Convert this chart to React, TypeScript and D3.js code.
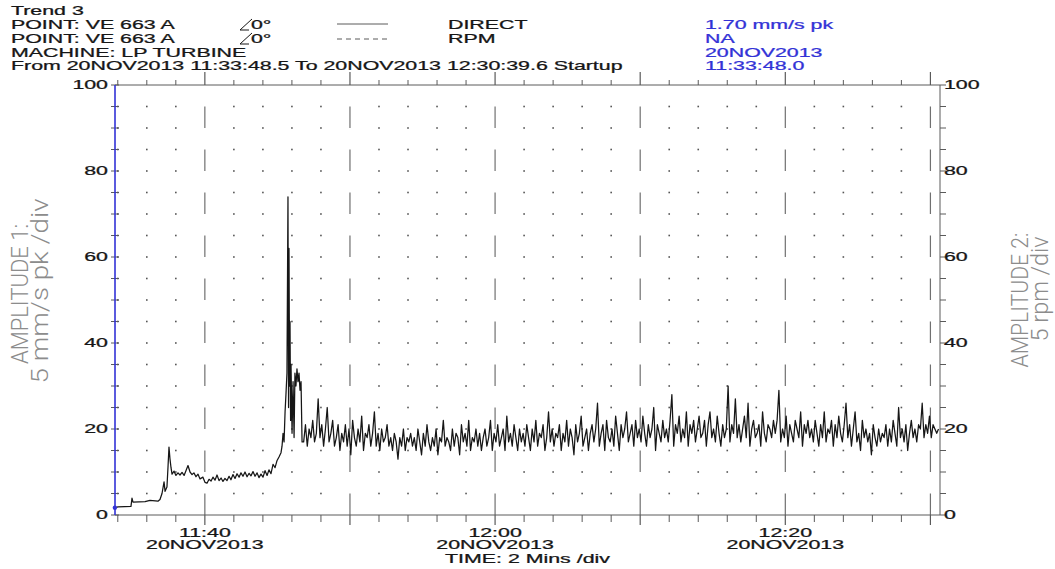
import React from "react";
import * as d3 from "d3";

// ---- page / plotter lettering ----
const W = 1055;
const H = 569;
const SX = 1.78; // the plotter letters are drawn wide

// ---- header text ----
const headerLines = [
  "Trend 3",
  "POINT: VE 663 A",
  "POINT: VE 663 A",
  "MACHINE: LP TURBINE",
  "From 20NOV2013 11:33:48.5 To 20NOV2013 12:30:39.6 Startup",
];
const phaseLabels = ["0°", "0°"];
const legendNames = ["DIRECT", "RPM"];
const cursorReadout = ["1.70 mm/s pk", "NA", "20NOV2013", "11:33:48.0"];

// ---- axes ----
const yTickLabels = [0, 20, 40, 60, 80, 100];
const yDomain = [0, 100];
const yMinorStep = 5;
const xMinorStepMin = 2;
const xMajorStepMin = 10;
const xLabelStepMin = 20;
const leftTitle = ["AMPLITUDE 1:", "5 mm/s pk  /div"];
const rightTitle = ["AMPLITUDE 2:", "5 rpm  /div"];
const timeTitle = "TIME: 2 Mins /div";

const startTime = new Date(2013, 10, 20, 11, 33, 48, 500);
const endTime = new Date(2013, 10, 20, 12, 30, 39, 600);
const cursorTime = new Date(2013, 10, 20, 11, 33, 48, 0);
const cursorValue = 1.7;

// ---- DIRECT amplitude, mm/s pk ----
// run-up: minutes after start, amplitude
const warmupMin = [
  0, 0.21, 1.1, 1.17, 1.24, 2.07, 2.41, 2.96, 3.1, 3.24, 3.38, 3.45, 3.58, 3.65, 3.72,
  3.79, 3.86, 3.93, 4.07, 4.2, 4.34, 4.48, 4.62, 4.76, 4.89, 5.03, 5.17, 5.31, 5.44,
  5.58, 5.72, 5.86, 6.06, 6.2, 6.34, 6.48, 6.62, 6.75, 6.89, 7.03, 7.17, 7.31, 7.44,
  7.58, 7.72, 7.86, 7.99, 8.13, 8.27, 8.41, 8.55, 8.68, 8.82, 8.96, 9.1, 9.24, 9.37,
  9.51, 9.65, 9.79, 9.92, 10.06, 10.2, 10.34, 10.48, 10.61, 10.75, 10.89, 11.03,
  11.16, 11.3, 11.44, 11.51, 11.58, 11.65, 11.72, 11.78, 11.85, 11.92, 11.96, 11.99,
  12.03, 12.06, 12.1, 12.13, 12.2, 12.27, 12.34, 12.4, 12.47, 12.54, 12.61, 12.68,
  12.75, 12.82, 12.89,
];
const warmupVal = [
  1.7, 1.9, 2.0, 3.9, 3.0, 3.1, 3.4, 3.2, 3.6, 5.0, 7.7, 5.5, 6.5, 11, 15.8,
  13, 11, 9.5, 10.2, 9.2, 9.8, 9.3, 9.9, 9.2, 10.3, 11.5, 10, 9.4, 9.8,
  8.9, 9.5, 8.4, 8.8, 7.6, 7.4, 8.3, 7.9, 8.8, 8.1, 9.3, 8.0, 8.6, 7.8,
  8.5, 8.0, 9.0, 8.2, 9.4, 8.5, 9.6, 8.8, 9.8, 9.0, 10.0, 8.9, 9.7, 9.1,
  10.1, 9.0, 9.8, 8.7, 9.5, 8.8, 10.3, 9.2, 10.5, 9.6, 11.8, 11,
  12.6, 13.5, 14.5, 16, 19, 17, 24, 28, 33, 74, 25, 62,
  30, 45, 22, 35, 19, 31, 18, 33, 30, 34, 31, 33,
  29, 31, 17,
];
// running: fixed sample step after the run-up
const runStartMin = 13.0;
const runStepMin = 0.125;
const runVal = [
  17, 21, 16, 20, 18, 22, 17, 19, 27, 18, 21, 16, 20, 25, 17, 19, 22, 16, 18, 21,
  15, 19, 17, 21, 16, 20, 14, 22, 18, 16, 20, 17, 23, 15, 19, 18, 21, 16, 19, 24,
  16, 19, 15, 20, 17, 18, 21, 16, 18, 15, 19, 17, 13, 18, 16, 20, 15, 18, 17, 19,
  16, 18, 15, 20, 17, 14, 19, 16, 21, 17, 15, 18, 16, 20, 14, 18, 17, 22, 16, 18,
  17, 15, 20, 16, 19, 18, 14, 21, 17, 19, 16, 22, 15, 18, 17, 20, 16, 19, 15, 18,
  20, 16, 18, 22, 15, 19, 17, 21, 16, 18, 20, 15, 23, 17, 19, 16, 21, 18, 15, 20,
  17, 19, 16, 21, 18, 15, 20, 17, 22, 16, 19, 18, 21, 15, 18, 24, 17, 20, 16, 19,
  18, 21, 15, 19, 17, 22, 16, 20, 18, 14, 21, 17, 19, 23, 16, 18, 20, 15, 19, 21,
  17, 20, 26, 16, 19, 21, 15, 22, 18, 17, 20, 16, 23, 19, 15, 21, 18, 20, 24, 17,
  19, 21, 16, 22, 18, 20, 17, 23, 19, 16, 21, 18, 20, 25, 15, 21, 19, 17, 22, 18,
  20, 17, 22, 28, 16, 21, 19, 23, 17, 20, 18, 24, 16, 21, 19, 22, 17, 20, 23, 18,
  19, 22, 16, 21, 24, 18, 20, 17, 23, 19, 16, 21, 18, 20, 30, 17, 21, 19, 27, 18,
  21, 17, 20, 23, 18, 26, 16, 20, 22, 18, 19, 21, 16, 24, 19, 17, 21, 20, 18, 22,
  19, 22, 29, 17, 20, 18, 23, 16, 21, 19, 17, 22, 20, 18, 24, 16, 21, 19, 22, 18,
  20, 17, 22, 19, 16, 21, 18, 24, 17, 20, 19, 22, 16, 21, 18, 23, 19, 17, 21, 26,
  18, 21, 16, 20, 24, 17, 19, 15, 22, 18, 20, 17, 19, 14, 21, 18, 16, 20, 17, 19,
  18, 21, 16, 20, 17, 22, 19, 16, 25, 18, 20, 17, 21, 15, 19, 22, 18, 20, 17, 21,
  20, 26, 18, 21, 19, 23, 18, 21, 20, 19, 20,
];

// ---- layout ----
const plot = { left: 115, right: 940, top: 85, bottom: 515 };
const FONT = "'Liberation Sans', Arial, Helvetica, sans-serif";
const INK = "#161616";
const BLUE = "#3232d6";
const FRAME = "#5a5a5a";

type P = { t: Date; v: number };
const minToDate = (m: number) => new Date(startTime.getTime() + m * 60000);

const series: P[] = [
  ...warmupMin.map((m, i) => ({ t: minToDate(m), v: warmupVal[i] })),
  ...runVal.map((v, i) => ({ t: minToDate(runStartMin + i * runStepMin), v })),
];

function WideText(props: {
  x: number;
  y: number;
  anchor?: "start" | "middle" | "end";
  fill?: string;
  size?: number;
  children: React.ReactNode;
}) {
  const { x, y, anchor = "start", fill = INK, size = 12, children } = props;
  return (
    <text
      transform={`translate(${x},${y}) scale(${SX},1)`}
      textAnchor={anchor}
      fill={fill}
      stroke={fill}
      strokeWidth={0.25}
      fontSize={size}
      fontFamily={FONT}
    >
      {children}
    </text>
  );
}

function SideTitle(props: { x: number; y: number; len: number; children: string }) {
  return (
    <text
      transform={`translate(${props.x},${props.y}) scale(${SX},1) rotate(-90)`}
      textAnchor="middle"
      fill="#8c8c8c"
      fontSize={13}
      fontWeight={300}
      fontFamily="Roboto, 'DejaVu Sans', sans-serif"
      textLength={props.len}
      lengthAdjust="spacingAndGlyphs"
    >
      {props.children}
    </text>
  );
}

export default function App() {
  const x = d3.scaleTime().domain([startTime, endTime]).range([plot.left, plot.right]);
  const y = d3.scaleLinear().domain(yDomain).range([plot.bottom, plot.top]);

  const minorTimes = d3.timeMinute.every(xMinorStepMin)!.range(startTime, endTime);
  const isMajor = (d: Date) => d.getMinutes() % xMajorStepMin === 0;
  const isLabelled = (d: Date) => d.getMinutes() % xLabelStepMin === 0;
  const yMinor = d3.range(yDomain[0], yDomain[1] + 0.001, yMinorStep);
  const yInner = yMinor.filter((v) => v > yDomain[0] && v < yDomain[1]);
  const dash = y(0) - y(yMinorStep);

  const fmtHM = d3.timeFormat("%H:%M");
  const fmtDate = (d: Date) => d3.timeFormat("%d%b%Y")(d).toUpperCase();

  const line = d3
    .line<P>()
    .x((d) => x(d.t))
    .y((d) => y(d.v));

  const rowY = [15, 29, 43, 57, 70];

  return (
    <svg
      width={W}
      height={H}
      style={{ position: "absolute", left: 0, top: 0, background: "#fff" }}
    >
      <rect width={W} height={H} fill="#fff" />
      <defs>
        <clipPath id="plotClip">
          <rect x={plot.left} y={plot.top - 2} width={plot.right - plot.left} height={plot.bottom - plot.top + 2} />
        </clipPath>
      </defs>

      {/* header block */}
      {headerLines.map((s, i) => (
        <WideText key={"h" + i} x={11} y={rowY[i]}>
          {s}
        </WideText>
      ))}
      {phaseLabels.map((s, i) => (
        <g key={"ph" + i}>
          {/* phase angle sign */}
          <path
            d={`M252,${rowY[i + 1] - 10} L240,${rowY[i + 1] + 1} L249,${rowY[i + 1] + 1}`}
            fill="none"
            stroke={INK}
            strokeWidth={1}
          />
          <WideText x={251} y={rowY[i + 1]}>
            {s}
          </WideText>
        </g>
      ))}
      <line x1={337} x2={388} y1={24} y2={24} stroke={FRAME} strokeWidth={1} />
      <line x1={337} x2={388} y1={39} y2={39} stroke={FRAME} strokeWidth={1} strokeDasharray="5 4" />
      {legendNames.map((s, i) => (
        <WideText key={"l" + i} x={448} y={rowY[i + 1]}>
          {s}
        </WideText>
      ))}
      {cursorReadout.map((s, i) => (
        <WideText key={"c" + i} x={705} y={rowY[i + 1]} fill={BLUE}>
          {s}
        </WideText>
      ))}

      {/* dotted grid */}
      {minorTimes
        .filter((d) => !isMajor(d))
        .map((d) =>
          yInner.map((v) => (
            <rect
              key={`g${+d}-${v}`}
              x={x(d) - 0.8}
              y={y(v) - 0.8}
              width={1.6}
              height={1.6}
              fill="#555"
            />
          ))
        )}
      {/* long-dash lines every 10 minutes */}
      {minorTimes.filter(isMajor).map((d) => (
        <g key={"M" + +d}>
          <line
            x1={x(d)}
            x2={x(d)}
            y1={y(0)}
            y2={y(100)}
            stroke="#707070"
            strokeWidth={1.2}
            strokeDasharray={`${dash} ${dash}`}
          />
          <line x1={x(d)} x2={x(d)} y1={plot.bottom} y2={plot.bottom + 10} stroke={FRAME} strokeWidth={1.2} />
          <line x1={x(d)} x2={x(d)} y1={plot.top} y2={plot.top - 13} stroke={FRAME} strokeWidth={1.2} />
        </g>
      ))}
      {/* 2-minute ticks on top and bottom */}
      {minorTimes
        .filter((d) => !isMajor(d))
        .map((d) => (
          <g key={"m" + +d}>
            <line x1={x(d)} x2={x(d)} y1={plot.bottom} y2={plot.bottom + 7} stroke={FRAME} />
            <line x1={x(d)} x2={x(d)} y1={plot.top} y2={plot.top - 5} stroke={FRAME} />
          </g>
        ))}

      {/* frame */}
      <line x1={plot.left} x2={plot.right} y1={plot.top} y2={plot.top} stroke={FRAME} />
      <line x1={plot.right} x2={plot.right} y1={plot.top} y2={plot.bottom} stroke={FRAME} />
      <line x1={plot.left} x2={plot.right} y1={plot.bottom} y2={plot.bottom} stroke={FRAME} />

      {/* amplitude ticks */}
      {yMinor.map((v) => (
        <g key={"yt" + v}>
          <line x1={plot.left - 4} x2={plot.left + 4} y1={y(v)} y2={y(v)} stroke={FRAME} />
          <line x1={plot.right} x2={plot.right + 6} y1={y(v)} y2={y(v)} stroke={FRAME} />
        </g>
      ))}
      <line x1={plot.left} x2={plot.left} y1={plot.top} y2={plot.bottom} stroke={BLUE} strokeWidth={1.6} />
      {yTickLabels.map((v) => (
        <g key={"yl" + v}>
          <WideText x={108} y={y(v) + 4.3} anchor="end">
            {v}
          </WideText>
          <WideText x={944} y={y(v) + 4.3}>
            {v}
          </WideText>
        </g>
      ))}

      {/* time labels */}
      {minorTimes.filter(isLabelled).map((d) => (
        <g key={"xl" + +d}>
          <WideText x={x(d)} y={537} anchor="middle">
            {fmtHM(d)}
          </WideText>
          <WideText x={x(d)} y={549} anchor="middle">
            {fmtDate(d)}
          </WideText>
        </g>
      ))}
      <WideText x={(plot.left + plot.right) / 2} y={563} anchor="middle">
        {timeTitle}
      </WideText>

      {/* side titles */}
      <SideTitle x={28} y={294} len={140}>{leftTitle[0]}</SideTitle>
      <SideTitle x={48} y={291} len={185}>{leftTitle[1]}</SideTitle>
      <SideTitle x={1028} y={300} len={135}>{rightTitle[0]}</SideTitle>
      <SideTitle x={1048} y={289} len={105}>{rightTitle[1]}</SideTitle>

      {/* DIRECT trend */}
      <path
        d={line(series) ?? ""}
        fill="none"
        stroke={INK}
        strokeWidth={1.25}
        strokeLinejoin="round"
        clipPath="url(#plotClip)"
      />
      <circle cx={x(cursorTime)} cy={y(cursorValue)} r={2.2} fill={BLUE} />
    </svg>
  );
}
